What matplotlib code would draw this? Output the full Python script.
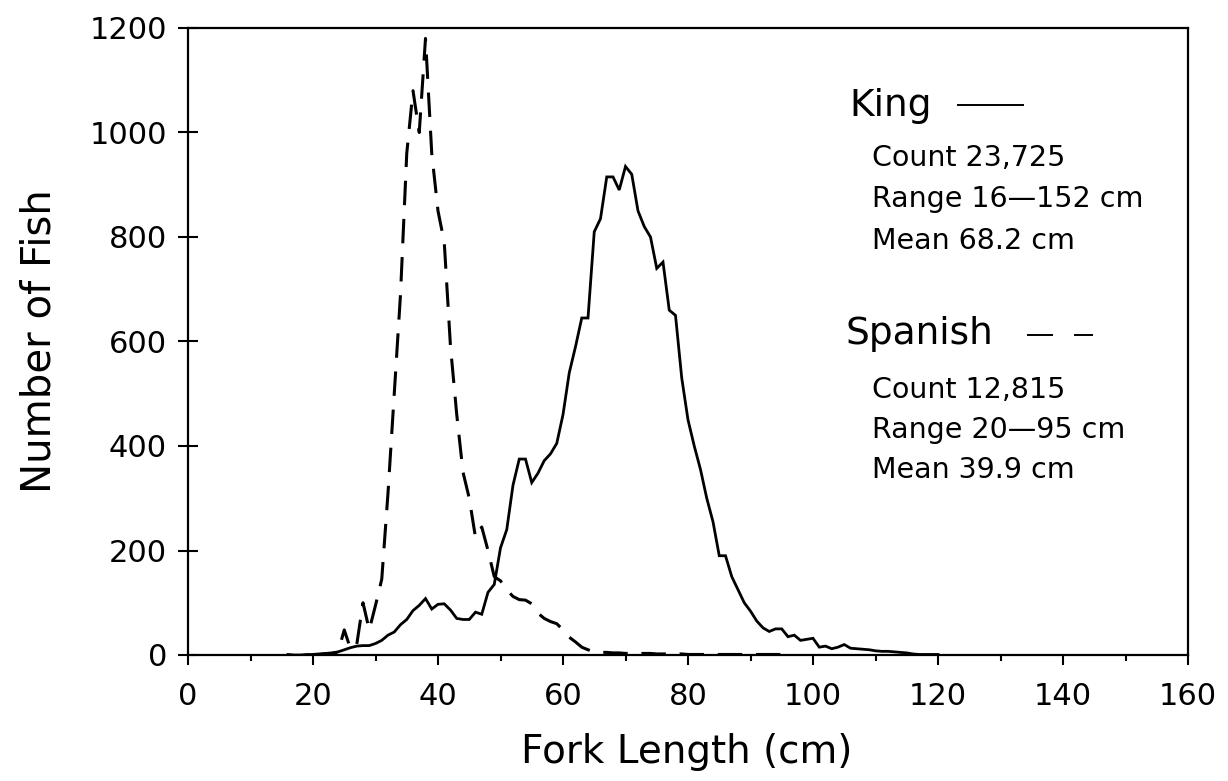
# FORK LENGTH FREQUENCIES - KING AND SPANISH MACKEREL

import matplotlib
matplotlib.use('Agg')
import matplotlib.pyplot as plt
import numpy as np

#================================================
# Data (1 cm bins)

kingLength = list(range(16, 121))
kingCount = [1, 0, 0, 1, 1, 2, 3, 4, 6, 10,          # 16-25
             14, 17, 18, 18, 22, 28, 38, 44, 58, 68,  # 26-35
             85, 95, 108, 88, 97, 98, 86, 70, 68, 68, # 36-45
             82, 78, 120, 135, 205, 240, 325, 375, 375, 330,  # 46-55
             348, 372, 385, 405, 460, 540, 590, 645, 645, 810,  # 56-65
             835, 915, 915, 890, 935, 920, 850, 820, 800, 740,  # 66-75
             752, 660, 650, 530, 450, 400, 355, 300, 255, 190,  # 76-85
             190, 150, 125, 100, 84, 65, 52, 45, 50, 50,        # 86-95
             35, 38, 28, 30, 32, 15, 17, 12, 15, 20,            # 96-105
             13, 12, 11, 10, 8, 7, 7, 6, 5, 4,                  # 106-115
             2, 1, 1, 1, 1]                                     # 116-120

spanishLength = list(range(20, 96))
spanishCount = [1, 1, 2, 3, 5, 48, 12, 20, 100, 48,            # 20-29
                95, 145, 310, 500, 690, 960, 1080, 1000, 1180, 960,  # 30-39
                850, 790, 590, 460, 350, 300, 225, 245, 200, 150,    # 40-49
                142, 125, 112, 106, 105, 98, 80, 70, 64, 60,         # 50-59
                48, 34, 25, 15, 10, 6, 5, 5, 4, 4,                   # 60-69
                3, 3, 3, 3, 3, 2, 2, 2, 2, 2,                        # 70-79
                1, 1, 1, 1, 1, 1, 1, 1, 1, 1,                        # 80-89
                1, 1, 1, 1, 1, 1]                                    # 90-95

xTicks = [0, 20, 40, 60, 80, 100, 120, 140, 160]
yTicks = [0, 200, 400, 600, 800, 1000, 1200]

kingStats = ['Count 23,725', 'Range 16\u2014152 cm', 'Mean 68.2 cm']
spanishStats = ['Count 12,815', 'Range 20\u201495 cm', 'Mean 39.9 cm']

#================================================
# Plotting

plt.rcParams['font.family'] = ['DejaVu Sans']

fig = plt.figure(figsize=(12.28, 7.81), dpi=100)
ax = fig.add_axes([188 / 1228, 1 - 655 / 781, 1000 / 1228, 627 / 781])

ax.plot(kingLength, kingCount, color='black', lw=2.0, solid_joinstyle='miter')
ax.plot(spanishLength, spanishCount, color='black', lw=2.2,
        linestyle=(0, (8, 4.5)), dash_capstyle='butt')

ax.set_xlim(0, 160)
ax.set_ylim(0, 1200)
ax.set_xticks(xTicks)
ax.set_xticks(np.arange(10, 160, 20), minor=True)
ax.set_yticks(yTicks)

ax.tick_params(axis='x', which='major', direction='out', length=7.2, width=1.5,
               labelsize=22, pad=12)
ax.tick_params(axis='x', which='minor', direction='out', length=4.3, width=1.5)
ax.tick_params(axis='y', which='major', direction='inout', length=14.4, width=1.5,
               labelsize=22, pad=8)

for spine in ax.spines.values():
    spine.set_linewidth(1.6)

ax.set_xlabel('Fork Length (cm)', fontsize=28)
ax.set_ylabel('Number of Fish', fontsize=29)
ax.xaxis.set_label_coords(0.4985, -0.125)
ax.yaxis.set_label_coords(-0.1285, 0.5)

#================================================
# Legend block written as text with line samples

ax.text(0.661, 0.876, 'King', transform=ax.transAxes, fontsize=27, va='center')
ax.plot([0.770, 0.835], [0.877, 0.877], transform=ax.transAxes, color='black', lw=1.4)
for i, s in enumerate(kingStats):
    ax.text(0.684, 0.793 - i * 0.066, s, transform=ax.transAxes, fontsize=20.5, va='center')

ax.text(0.658, 0.512, 'Spanish', transform=ax.transAxes, fontsize=27, va='center')
ax.plot([0.840, 0.864], [0.510, 0.510], transform=ax.transAxes, color='black', lw=1.4)
ax.plot([0.887, 0.904], [0.510, 0.510], transform=ax.transAxes, color='black', lw=1.4)
for i, s in enumerate(spanishStats):
    ax.text(0.684, 0.423 - i * 0.064, s, transform=ax.transAxes, fontsize=20.5, va='center')

fig.savefig('out.png', dpi=100)
